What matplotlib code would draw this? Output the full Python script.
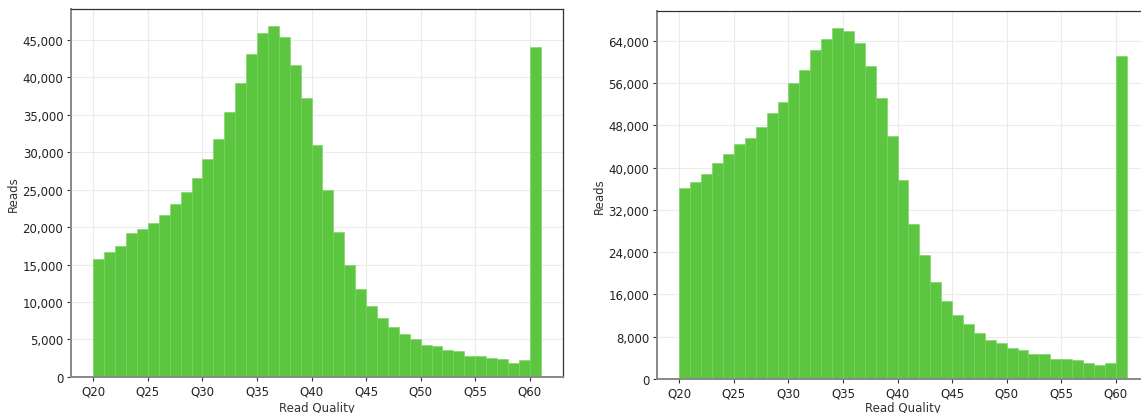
import numpy as np
import matplotlib
matplotlib.use("Agg")
import matplotlib.pyplot as plt
from matplotlib.ticker import FuncFormatter, MultipleLocator

quality = np.arange(20, 61)

reads_left = [15790, 16640, 17530, 19220, 19800, 20510, 21660, 23130, 24730, 26510,
              29090, 31720, 35370, 39150, 43060, 45910, 46750, 45290, 41590, 37190,
              30960, 24960, 19310, 14990, 11790, 9430, 7920, 6630, 5690, 5030,
              4230, 4180, 3560, 3430, 2850, 2760, 2580, 2360, 1910, 2270,
              43950]

reads_right = [36140, 37340, 38730, 40890, 42590, 44430, 45630, 47720, 50320, 52400,
               55950, 58540, 62210, 64430, 66330, 65890, 63670, 59240, 53230, 46080,
               37720, 29240, 23420, 18420, 14750, 12030, 10320, 8800, 7470, 6840,
               5890, 5510, 4750, 4750, 3800, 3800, 3670, 3100, 2660, 3100,
               61080]

plt.rcParams['font.family'] = ['DejaVu Sans']
plt.rcParams['font.size'] = 8.5

fig = plt.figure(figsize=(11.41, 4.14), dpi=100)
ax1 = fig.add_axes([0.0622, 0.087, 0.4312, 0.889])
ax2 = fig.add_axes([0.5758, 0.0821, 0.4312, 0.889])

for ax, reads, ystep, xpad in [(ax1, reads_left, 5000, 2.5), (ax2, reads_right, 8000, 1.0)]:
    ax.bar(quality, reads, width=1, align='edge', color='#5cc641',
           edgecolor='#78d260', linewidth=0.4, zorder=2)
    ax.set_axisbelow(True)
    ax.grid(True, color='#ebebeb', linewidth=0.8, zorder=0)
    ax.xaxis.set_major_locator(MultipleLocator(5))
    ax.xaxis.set_major_formatter(FuncFormatter(lambda v, p: 'Q%d' % v))
    ax.yaxis.set_major_locator(MultipleLocator(ystep))
    ax.yaxis.set_major_formatter(FuncFormatter(lambda v, p: '{:,.0f}'.format(v)))
    for side in ['left', 'bottom']:
        ax.spines[side].set_color('#888888')
        ax.spines[side].set_linewidth(1.4)
    for side in ['top', 'right']:
        ax.spines[side].set_color('#333333')
        ax.spines[side].set_linewidth(0.9)
    ax.tick_params(length=3, width=0.8, pad=2.5, color='#333333', labelcolor='#222222')
    ax.set_xlabel('Read Quality', color='#333333', labelpad=xpad)
    ax.set_ylabel('Reads', color='#333333', labelpad=2)

fig.savefig('out.png', dpi=100)
